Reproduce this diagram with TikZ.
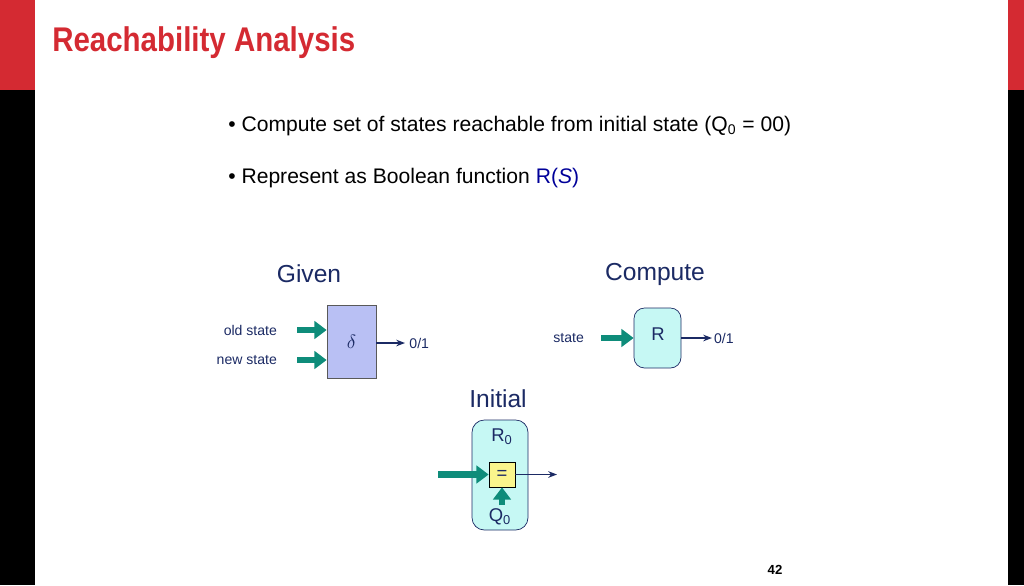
\documentclass[tikz,border=0pt]{standalone}
\usepackage{fontspec}
\setmainfont{Liberation Sans}
\usetikzlibrary{arrows.meta,positioning}
\definecolor{slidered}{HTML}{D42A32}
\definecolor{navy}{HTML}{1B2A64}
\definecolor{feedgreen}{HTML}{0E8C7A}
\definecolor{deltablue}{HTML}{B9C0F4}
\definecolor{reachcyan}{HTML}{C6F8F4}
\definecolor{eqyellow}{HTML}{FAF58C}
\tikzset{
  feed/.style={draw=feedgreen,line width=3.6pt,-{Triangle[length=7pt,width=10pt]}},
  result/.style={draw=navy,line width=0.7pt,-{Stealth[length=5pt]}},
  lbl/.style={text=navy,font=\fontsize{8}{9}\selectfont,inner sep=1pt},
  head/.style={text=navy,font=\fontsize{14}{16}\selectfont},
  boxtxt/.style={text=navy,font=\fontsize{10.5}{12}\selectfont}
}
\begin{document}
\begin{tikzpicture}[x=0.02cm,y=-0.02cm]
\useasboundingbox (0,0) rectangle (1024,585);
% frame
\fill[slidered] (0,0) rectangle (35,90);
\fill[black] (0,90) rectangle (35,585);
\fill[slidered] (1008,0) rectangle (1024,90);
\fill[black] (1008,90) rectangle (1024,585);
\node[anchor=west,text=slidered,font=\bfseries\fontsize{19.5}{22}\selectfont,xscale=0.86,inner sep=0] (title) at (52,43) {Reachability Analysis};
% bullets
\node[anchor=west,font=\fontsize{12}{14}\selectfont,inner sep=0] (b1) at (228,126) {• Compute set of states reachable from initial state (Q\textsubscript{0} = 00)};
\node[anchor=west,font=\fontsize{12}{14}\selectfont,inner sep=0] (b2) at (228,178) {• Represent as Boolean function \textcolor{blue!60!black}{R(\textit{S})}};
% headings
\node[head] (given) at (309,274) {Given};
\node[head] (compute) at (655,274) {Compute};
\node[head] (initial) at (498,399) {Initial};
% delta block
\node[draw=gray!70!black,fill=deltablue,minimum width=49*0.02cm,minimum height=73*0.02cm,boxtxt] (delta) at (351.5,341.5) {$\delta$};
\node[lbl,anchor=east] (old) at (279,330) {old state};
\node[lbl,anchor=east] (new) at (279,360) {new state};
\draw[feed] (297,330) -- (delta.west |- old);
\draw[feed] (297,360) -- (delta.west |- new);
\coordinate (dout) at (405,343);
\draw[result] (delta.east |- dout) -- (dout);
\node[lbl,anchor=west] (dval) at (dout) {\,0/1};
% R block
\node[draw=navy,fill=reachcyan,rounded corners=6pt,minimum width=47*0.02cm,minimum height=60*0.02cm,boxtxt] (rbox) at (657.5,338) {};
\node[boxtxt] (rtxt) at (658,334) {R};
\node[lbl,anchor=east] (st) at (586,338) {state};
\draw[feed] (601,338) -- (rbox.west);
\coordinate (rout) at (712,338);
\draw[result] (rbox.east) -- (rout);
\node[lbl,anchor=west] (rval) at (rout) {0/1};
% initial block
\node[draw=navy,fill=reachcyan,rounded corners=7pt,minimum width=56*0.02cm,minimum height=110*0.02cm] (r0) at (500,475) {};
\node[boxtxt] (r0txt) at (502,437) {R\textsubscript{0}};
\node[draw=black,fill=eqyellow,minimum width=26*0.02cm,minimum height=25*0.02cm,inner sep=0,boxtxt] (eq) at (502,474.5) {=};
\node[boxtxt] (q0) at (500,517) {Q\textsubscript{0}};
\coordinate (eqin) at (438,474.5);
\coordinate (q0top) at (502,505);
\draw[feed] (eqin) -- (eq.west);
\draw[feed] (q0top) -- (eq.south);
\coordinate (eqout) at (557,474.5);
\draw[result] (eq.east) -- (eqout);
% page number
\node[font=\bfseries\fontsize{7.5}{9}\selectfont] (page) at (775,570) {42};
\end{tikzpicture}
\end{document}
